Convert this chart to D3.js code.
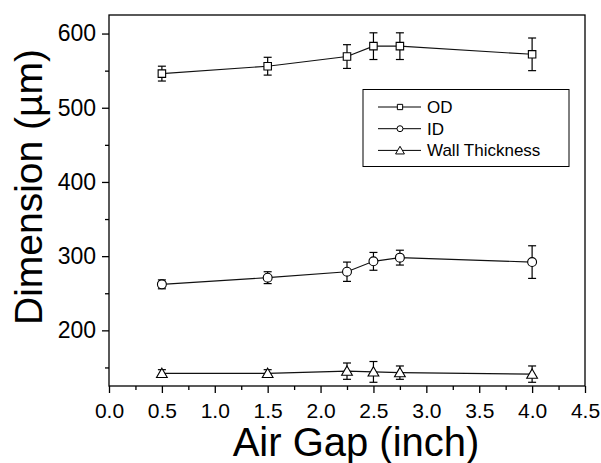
<!DOCTYPE html>
<html>
<head>
<meta charset="utf-8">
<script src="https://cdn.jsdelivr.net/npm/d3@7"></script>
<style>
  body { margin: 0; background: #fff; }
  text { font-family: "Liberation Sans", Arial, sans-serif; fill: #000; }
</style>
</head>
<body>
<div id="chartContainer"></div>
<script>
// Air gap values (inch)
var airGap = [0.5, 1.5, 2.25, 2.5, 2.75, 4.0];

// Dimensions (um) and their error bars
var odValues = [546, 556, 569, 583, 583, 572];
var odErrors = [10, 12, 16, 18, 18, 22];
var idValues = [262, 271, 279, 293, 298, 292];
var idErrors = [6, 8, 13, 12, 10, 22];
var wallValues = [142, 142, 145, 144, 143, 141];
var wallErrors = [5, 5, 11, 14, 9, 11];

var seriesNames = ["OD", "ID", "Wall Thickness"];
var xTicks = [0, 0.5, 1, 1.5, 2, 2.5, 3, 3.5, 4, 4.5];
var yTicks = [200, 300, 400, 500, 600];

var width = 601, height = 463;
var plot = {left: 109, right: 585, top: 15, bottom: 386};
var font = "'Liberation Sans', Arial, sans-serif";

var svg = d3.select("#chartContainer")
    .append("svg")
    .attr("width", width)
    .attr("height", height);

var x = d3.scaleLinear().domain([0, 4.5]).range([plot.left, plot.right]);
var y = d3.scaleLinear().domain([125, 625]).range([plot.bottom, plot.top]);

// frame
svg.append("rect")
    .attr("x", plot.left)
    .attr("y", plot.top)
    .attr("width", plot.right - plot.left)
    .attr("height", plot.bottom - plot.top)
    .style("fill", "none")
    .style("stroke", "#000")
    .style("stroke-width", 1.3);

// x axis
var xAxis = svg.append("g")
    .attr("transform", "translate(0," + plot.bottom + ")")
    .call(d3.axisBottom(x).tickValues(xTicks).tickFormat(d3.format(".1f")).tickSize(7).tickPadding(10));
xAxis.select(".domain").remove();
xAxis.selectAll("line").style("stroke", "#000").style("stroke-width", 1.3);
xAxis.selectAll("text").style("font-size", "21px").style("font-family", font);

var xMinor = svg.append("g")
    .attr("transform", "translate(0," + plot.bottom + ")")
    .call(d3.axisBottom(x).tickValues(d3.range(0.25, 4.5, 0.5)).tickFormat("").tickSize(4));
xMinor.select(".domain").remove();
xMinor.selectAll("line").style("stroke", "#000").style("stroke-width", 1.3);

// y axis
var yAxis = svg.append("g")
    .attr("transform", "translate(" + plot.left + ",0)")
    .call(d3.axisLeft(y).tickValues(yTicks).tickSize(7).tickPadding(6));
yAxis.select(".domain").remove();
yAxis.selectAll("line").style("stroke", "#000").style("stroke-width", 1.3);
yAxis.selectAll("text").style("font-size", "23px").style("font-family", font);

var yMinor = svg.append("g")
    .attr("transform", "translate(" + plot.left + ",0)")
    .call(d3.axisLeft(y).tickValues([150, 250, 350, 450, 550]).tickFormat("").tickSize(4));
yMinor.select(".domain").remove();
yMinor.selectAll("line").style("stroke", "#000").style("stroke-width", 1.3);

// axis titles
svg.append("text")
    .attr("x", 356)
    .attr("y", 456)
    .attr("text-anchor", "middle")
    .style("font-size", "40px")
    .text("Air Gap (inch)");

svg.append("text")
    .attr("transform", "translate(42,187) rotate(-90)")
    .attr("text-anchor", "middle")
    .style("font-size", "39px")
    .text("Dimension (\u00b5m)");

// marker shapes
var shapes = [d3.symbolSquare, d3.symbolCircle, d3.symbolTriangle];
var sizes = [56, 62, 50];

var series = [
  {name: seriesNames[0], values: odValues, errors: odErrors, shape: 0},
  {name: seriesNames[1], values: idValues, errors: idErrors, shape: 1},
  {name: seriesNames[2], values: wallValues, errors: wallErrors, shape: 2}
];

var line = d3.line()
    .x(function (d) { return x(d.x); })
    .y(function (d) { return y(d.y); });

series.forEach(function (s) {
  var pts = airGap.map(function (g, i) { return {x: g, y: s.values[i], e: s.errors[i]}; });
  var g = svg.append("g");

  g.append("path")
      .datum(pts)
      .attr("d", line)
      .style("fill", "none")
      .style("stroke", "#111")
      .style("stroke-width", 1.1);

  // error bars
  var eb = g.selectAll(".err")
      .data(pts)
      .enter()
      .append("g");
  eb.append("line")
      .attr("x1", function (d) { return x(d.x); })
      .attr("x2", function (d) { return x(d.x); })
      .attr("y1", function (d) { return y(d.y + d.e); })
      .attr("y2", function (d) { return y(d.y - d.e); });
  eb.append("line")
      .attr("x1", function (d) { return x(d.x) - 4; })
      .attr("x2", function (d) { return x(d.x) + 4; })
      .attr("y1", function (d) { return y(d.y + d.e); })
      .attr("y2", function (d) { return y(d.y + d.e); });
  eb.append("line")
      .attr("x1", function (d) { return x(d.x) - 4; })
      .attr("x2", function (d) { return x(d.x) + 4; })
      .attr("y1", function (d) { return y(d.y - d.e); })
      .attr("y2", function (d) { return y(d.y - d.e); });
  eb.selectAll("line").style("stroke", "#000").style("stroke-width", 1.2);

  g.selectAll(".mark")
      .data(pts)
      .enter()
      .append("path")
      .attr("transform", function (d) { return "translate(" + x(d.x) + "," + (y(d.y) + (s.shape === 2 ? 1 : 0)) + ")"; })
      .attr("d", d3.symbol().type(shapes[s.shape]).size(sizes[s.shape]))
      .style("fill", "#fff")
      .style("stroke", "#000")
      .style("stroke-width", 1.1);
});

// legend
var legend = svg.append("g");
legend.append("rect")
    .attr("x", 363)
    .attr("y", 89.5)
    .attr("width", 206)
    .attr("height", 77)
    .style("fill", "#fff")
    .style("stroke", "#000")
    .style("stroke-width", 1);

var entries = legend.selectAll(".entry")
    .data(series)
    .enter()
    .append("g")
    .attr("transform", function (d, i) { return "translate(0," + (107 + i * 21.7) + ")"; });

entries.append("line")
    .attr("x1", 378).attr("x2", 421)
    .attr("y1", 0).attr("y2", 0)
    .style("stroke", "#000")
    .style("stroke-width", 1);

entries.append("path")
    .attr("transform", function (d) { return "translate(400," + (d.shape === 2 ? 1 : 0) + ")"; })
    .attr("d", function (d) { return d3.symbol().type(shapes[d.shape]).size(d.shape === 2 ? 34 : 28)(); })
    .style("fill", "#fff")
    .style("stroke", "#000")
    .style("stroke-width", 1);

entries.append("text")
    .attr("x", 427)
    .attr("y", 6)
    .style("font-size", "17px")
    .text(function (d) { return d.name; });
</script>
</body>
</html>
